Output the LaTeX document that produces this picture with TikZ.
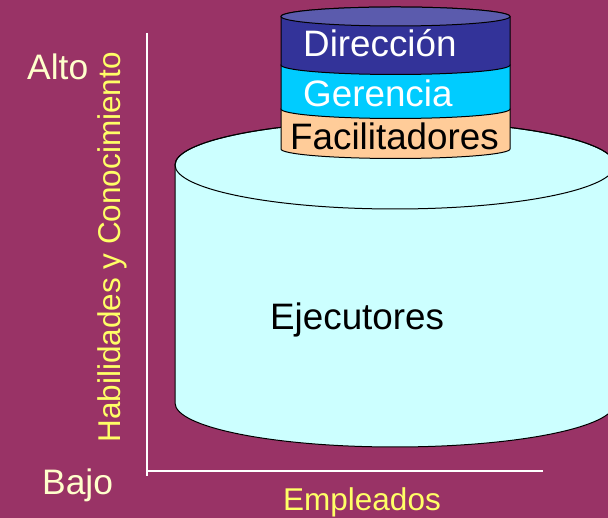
\documentclass[tikz,border=0pt]{standalone}
\usepackage{fontspec}
\setmainfont{Liberation Sans}
\definecolor{bg}{HTML}{993366}
\definecolor{dirc}{HTML}{333399}
\definecolor{dirtop}{HTML}{5B5BAD}
\definecolor{gerc}{HTML}{00CCFF}
\definecolor{facc}{HTML}{FFCC99}
\definecolor{ejec}{HTML}{CCFFFF}
\definecolor{cream}{HTML}{FFFFCC}
\definecolor{yel}{HTML}{FFFF66}
\begin{document}
\begin{tikzpicture}[x=1pt,y=1pt,
  outl/.style={draw=black,line width=1pt},
  lbl/.style={inner sep=0pt,anchor=base west,font=\fontsize{36.8}{40}\selectfont},
  axlbl/.style={inner sep=0pt,font=\fontsize{35.4}{40}\selectfont,text=cream},
  ylbl/.style={inner sep=0pt,font=\fontsize{31.5}{36}\selectfont,text=yel},
  axis/.style={draw=white,line width=1.3pt}]
\fill[bg] (0,0) rectangle (608,518);
\useasboundingbox (0,0) rectangle (608,518);
\begin{scope}
\clip (0,0) rectangle (608,518);
% big cylinder (Ejecutores)
\path[outl,fill=ejec] (175,353) -- (175,115)
  arc[start angle=180,end angle=360,x radius=220,y radius=44]
  -- (615,353) arc[start angle=0,end angle=180,x radius=220,y radius=44] -- cycle;
\draw[outl] (395,353) ellipse [x radius=220,y radius=44];
% small cylinder bands, bottom to top
\path[outl,fill=facc] (281,409) -- (281,369)
  arc[start angle=180,end angle=360,x radius=114.5,y radius=9.5]
  -- (510,409) arc[start angle=0,end angle=180,x radius=114.5,y radius=9.5] -- cycle;
\path[outl,fill=gerc] (281,453) -- (281,409)
  arc[start angle=180,end angle=360,x radius=114.5,y radius=9.5]
  -- (510,453) arc[start angle=0,end angle=180,x radius=114.5,y radius=9.5] -- cycle;
\path[outl,fill=dirc] (281,501.5) -- (281,453)
  arc[start angle=180,end angle=360,x radius=114.5,y radius=9.5]
  -- (510,501.5) arc[start angle=0,end angle=180,x radius=114.5,y radius=9.5] -- cycle;
\draw[outl,fill=dirtop] (395.5,501.5) ellipse [x radius=114.5,y radius=9.5];
\end{scope}
% labels
\node[lbl,text=white] (dir) at (303,461) {Dirección};
\node[lbl,text=white] (ger) at (303,411) {Gerencia};
\node[lbl,text=black] (fac) at (290,368) {Facilitadores};
\node[lbl,text=black] (eje) at (270,188) {Ejecutores};
% axes
\coordinate (ytop) at (147,485);
\coordinate (ybot) at (147,42);
\coordinate (xl) at (147,47);
\coordinate (xr) at (543,47);
\draw[axis] (ytop) -- (ybot);
\draw[axis] (xl) -- (xr);
\node[axlbl,anchor=base west] (alto) at (27,438) {Alto};
\node[axlbl,anchor=base west] (bajo) at (42,23) {Bajo};
\node[ylbl,anchor=base,rotate=90] (hab) at (120,270.5) {Habilidades y Conocimiento};
\node[ylbl,anchor=base west] (emp) at (283,7) {Empleados};
\end{tikzpicture}
\end{document}
